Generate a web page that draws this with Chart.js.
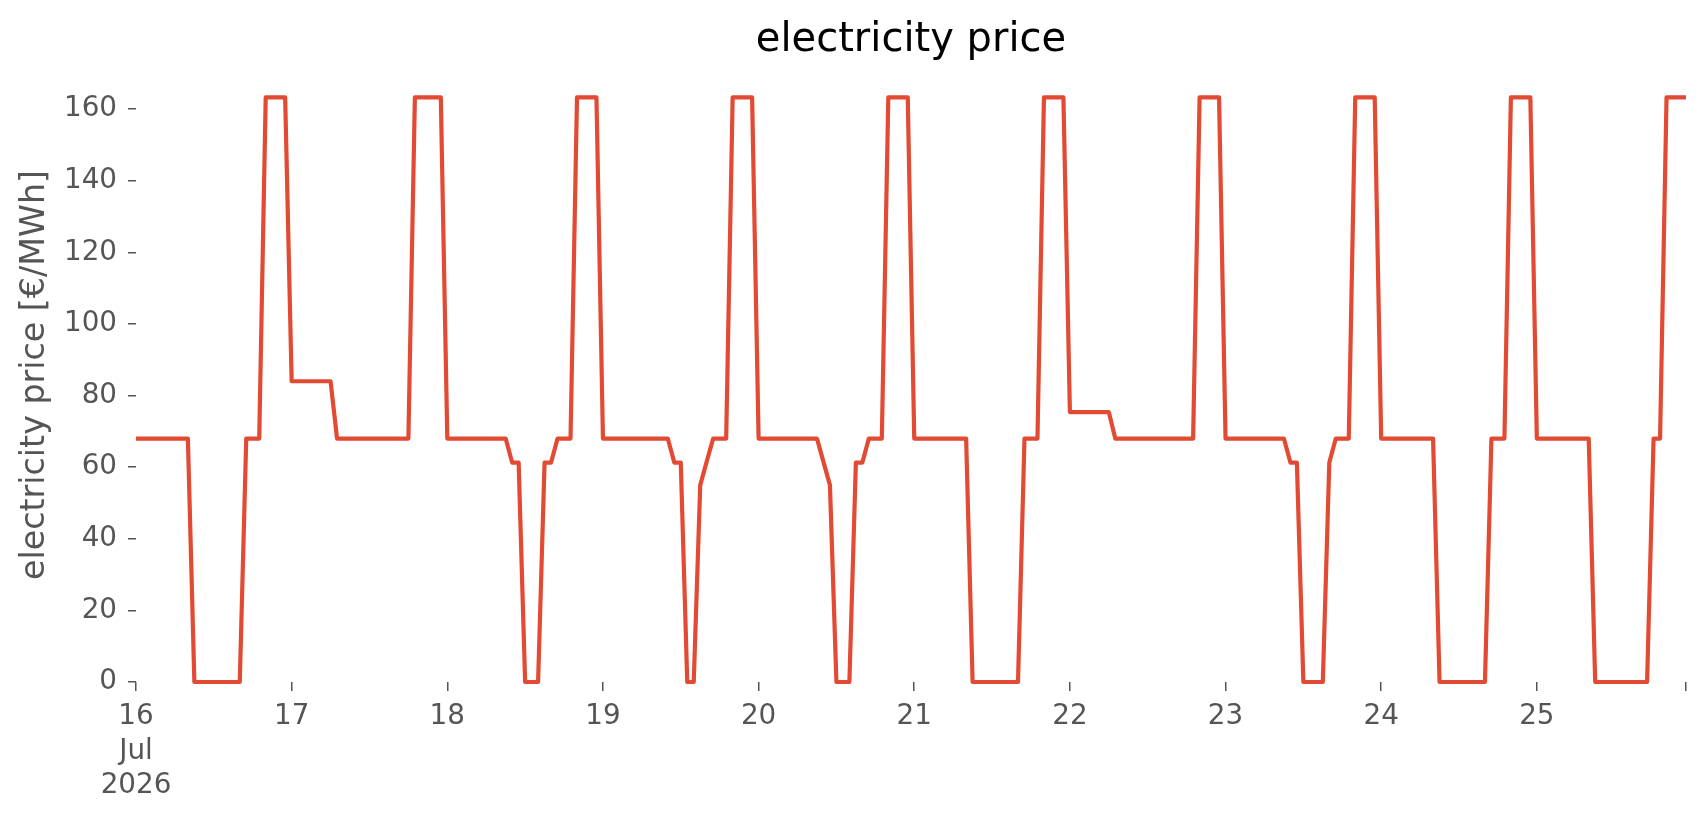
<!DOCTYPE html>
<html>
<head>
<meta charset="utf-8">
<title>electricity price</title>
<script src="https://cdn.jsdelivr.net/npm/chart.js@4.4.1/dist/chart.umd.min.js"></script>
<style>
  html, body { margin: 0; padding: 0; background: #ffffff; }
  #wrap { width: 1706px; height: 815px; }
</style>
</head>
<body>
<div id="wrap"><canvas id="price_chart"></canvas></div>
<script>
// hourly electricity price, one array per day (16-25 Jul 2026), €/MWh
const jul16 = [68, 68, 68, 68, 68, 68, 68, 68, 68, 0, 0, 0, 0, 0, 0, 0, 0, 68, 68, 68, 163.3, 163.3, 163.3, 163.3];
const jul17 = [84, 84, 84, 84, 84, 84, 84, 68, 68, 68, 68, 68, 68, 68, 68, 68, 68, 68, 68, 163.3, 163.3, 163.3, 163.3, 163.3];
const jul18 = [68, 68, 68, 68, 68, 68, 68, 68, 68, 68, 61.3, 61.3, 0, 0, 0, 61.3, 61.3, 68, 68, 68, 163.3, 163.3, 163.3, 163.3];
const jul19 = [68, 68, 68, 68, 68, 68, 68, 68, 68, 68, 68, 61.3, 61.3, 0, 0, 55, 61.6, 68, 68, 68, 163.3, 163.3, 163.3, 163.3];
const jul20 = [68, 68, 68, 68, 68, 68, 68, 68, 68, 68, 61.5, 55, 0, 0, 0, 61.3, 61.3, 68, 68, 68, 163.3, 163.3, 163.3, 163.3];
const jul21 = [68, 68, 68, 68, 68, 68, 68, 68, 68, 0, 0, 0, 0, 0, 0, 0, 0, 68, 68, 68, 163.3, 163.3, 163.3, 163.3];
const jul22 = [75.4, 75.4, 75.4, 75.4, 75.4, 75.4, 75.4, 68, 68, 68, 68, 68, 68, 68, 68, 68, 68, 68, 68, 68, 163.3, 163.3, 163.3, 163.3];
const jul23 = [68, 68, 68, 68, 68, 68, 68, 68, 68, 68, 61.3, 61.3, 0, 0, 0, 0, 61.3, 68, 68, 68, 163.3, 163.3, 163.3, 163.3];
const jul24 = [68, 68, 68, 68, 68, 68, 68, 68, 68, 0, 0, 0, 0, 0, 0, 0, 0, 68, 68, 68, 163.3, 163.3, 163.3, 163.3];
const jul25 = [68, 68, 68, 68, 68, 68, 68, 68, 68, 0, 0, 0, 0, 0, 0, 0, 0, 0, 68, 68, 163.3, 163.3, 163.3, 163.3];

const dayLabels = ["16", "17", "18", "19", "20", "21", "22", "23", "24", "25"];
const firstDayLabel = ["16", "Jul", "2026"];
const yTicks = [0, 20, 40, 60, 80, 100, 120, 140, 160];

const prices = [].concat(jul16, jul17, jul18, jul19, jul20, jul21, jul22, jul23, jul24, jul25);

// one category per hour
const hours = [];
dayLabels.forEach((d) => {
  for (let h = 0; h < 24; h++) {
    hours.push("2026-07-" + d + " " + String(h).padStart(2, "0") + ":00");
  }
});

const FONT = "DejaVu Sans";
const GREY = "#555555";
Chart.defaults.font.family = FONT;

new Chart(document.getElementById("price_chart"), {
  type: "line",
  data: {
    labels: hours,
    datasets: [
      {
        label: "electricity price",
        data: prices,
        borderColor: "#E24A33",
        borderWidth: 4.2,
        borderJoinStyle: "round",
        pointRadius: 0,
        tension: 0,
        fill: false,
        clip: 8,
      },
    ],
  },
  options: {
    responsive: true,
    maintainAspectRatio: false,
    animation: false,
    layout: { padding: { left: 0, right: 20, top: 0, bottom: 0 } },
    plugins: {
      legend: { display: false },
      tooltip: { enabled: false },
      title: {
        display: true,
        fullSize: false,
        text: "electricity price",
        color: "#000000",
        font: { family: FONT, size: 40, weight: "normal" },
        padding: { top: 17, bottom: 3 },
      },
    },
    scales: {
      x: {
        type: "category",
        offset: false,
        border: { display: false },
        grid: {
          drawOnChartArea: false,
          drawTicks: true,
          tickLength: 9,
          color: GREY,
          lineWidth: 1.5,
        },
        ticks: {
          autoSkip: false,
          maxRotation: 0,
          minRotation: 0,
          padding: 9,
          color: GREY,
          font: { family: FONT, size: 27.8, lineHeight: 1.24 },
          callback: function (value) {
            if (value === 0) return firstDayLabel;
            if (value % 24 === 0) return dayLabels[value / 24];
            return "";
          },
        },
        afterBuildTicks: function (scale) {
          const last = hours.length - 1;
          scale.ticks = scale.ticks.filter((t) => t.value % 24 === 0 || t.value === last);
        },
        afterFit: function (scale) {
          scale.height = 133;
        },
      },
      y: {
        min: 0,
        max: 171.5,
        border: { display: false },
        grid: {
          drawOnChartArea: false,
          drawTicks: true,
          tickLength: 8,
          color: GREY,
          lineWidth: 1.5,
        },
        ticks: {
          padding: 11,
          color: GREY,
          font: { family: FONT, size: 27.8 },
        },
        title: {
          display: true,
          text: "electricity price [€/MWh]",
          color: GREY,
          font: { family: FONT, size: 33.3 },
          padding: { top: 15, bottom: 0 },
        },
        afterBuildTicks: function (scale) {
          scale.ticks = yTicks.map((v) => ({ value: v }));
        },
        afterFit: function (scale) {
          scale.width = 136;
        },
      },
    },
  },
});
</script>
</body>
</html>
